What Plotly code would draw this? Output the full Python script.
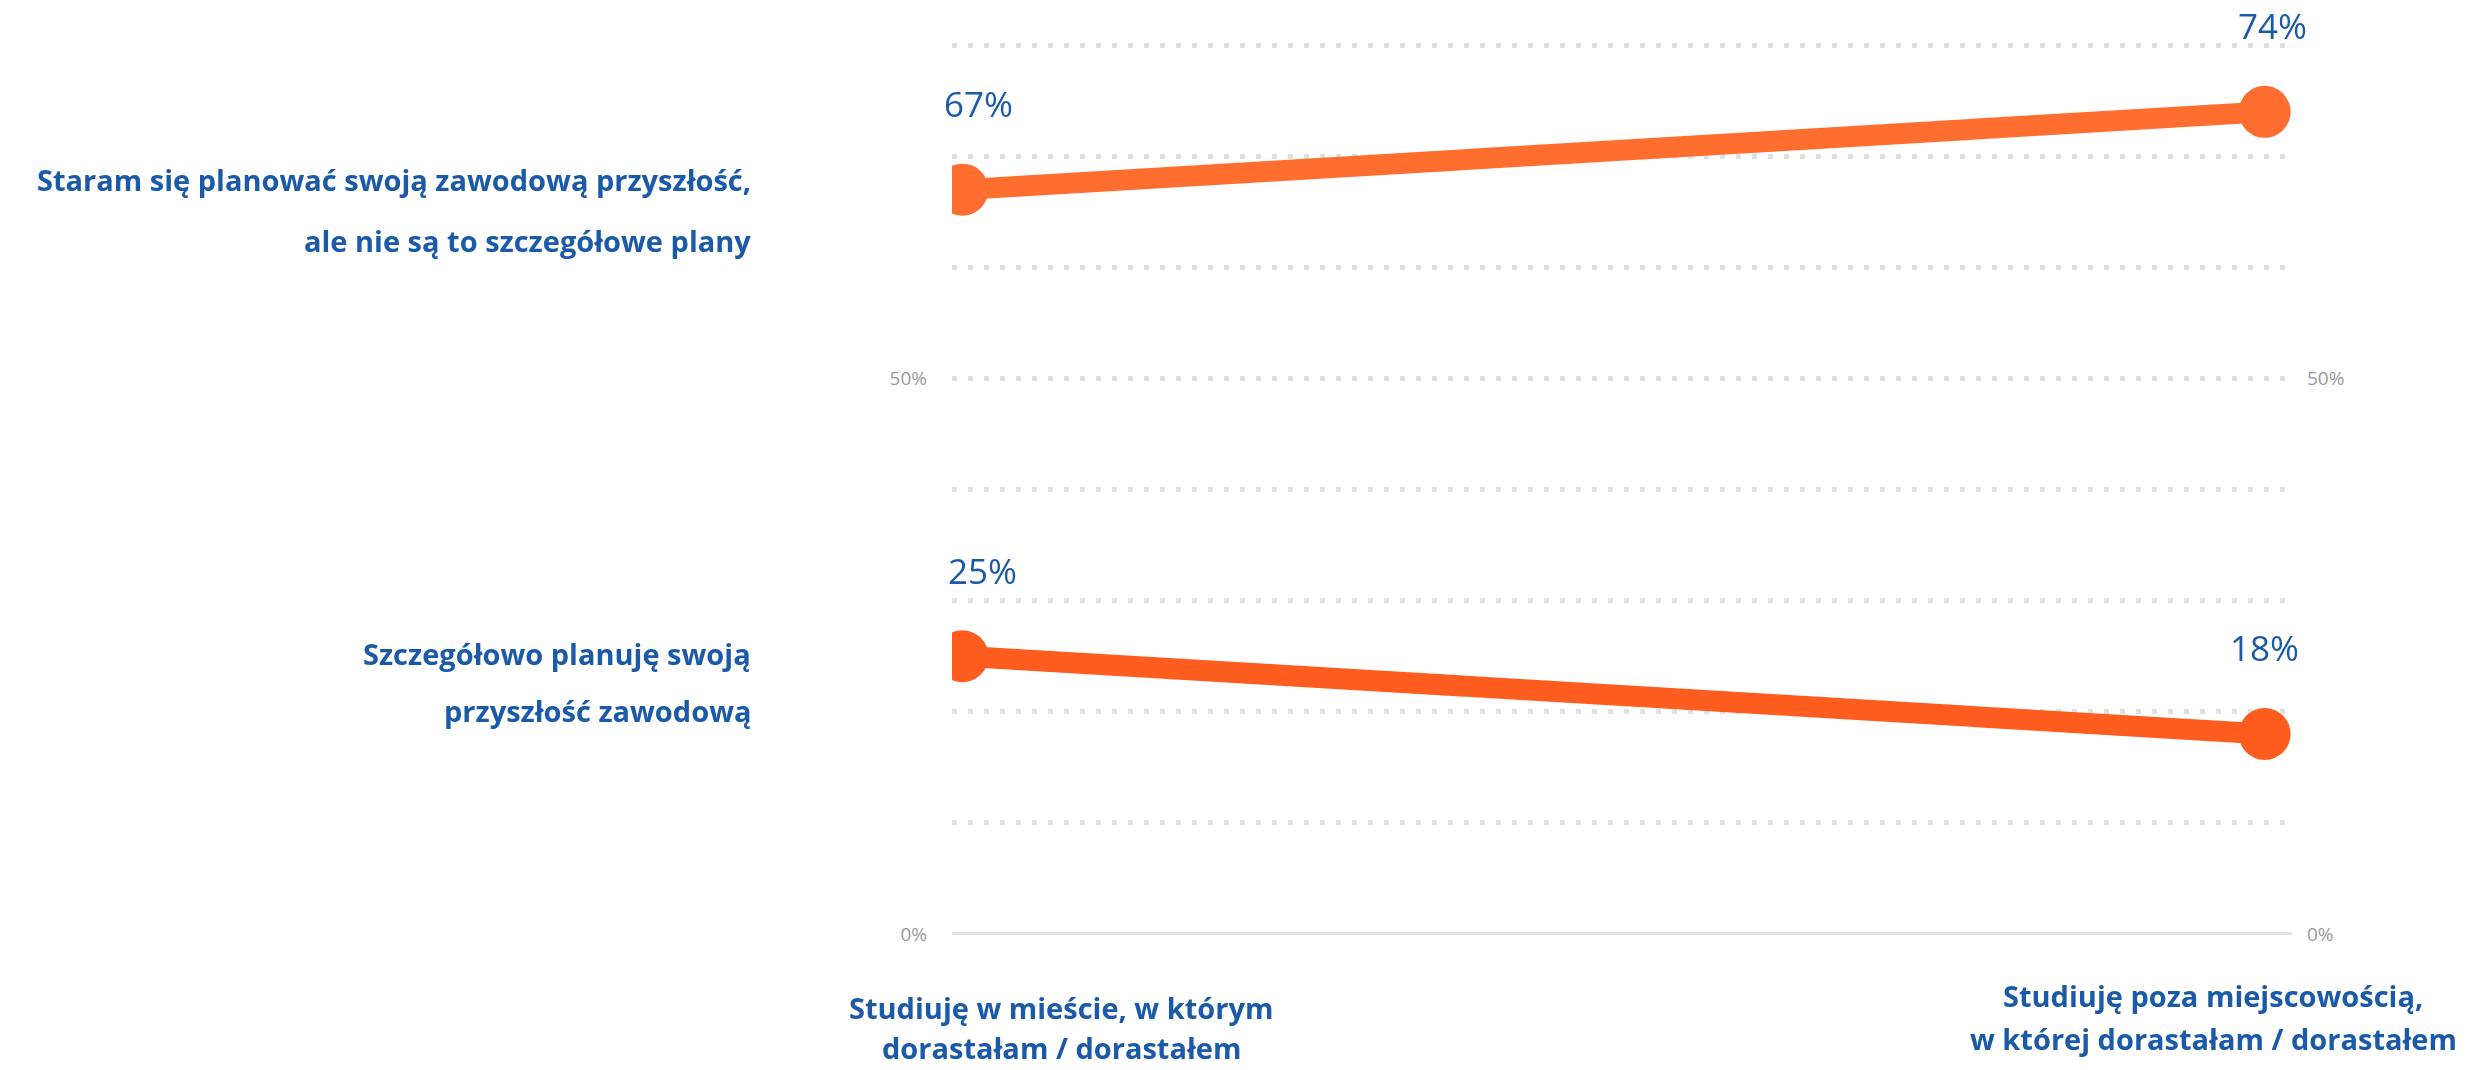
import plotly.graph_objects as go

# --- data -------------------------------------------------------------------
categories = [
    ["Studiuję w mieście, w którym", "dorastałam / dorastałem"],
    ["Studiuję poza miejscowością,", "w której dorastałam / dorastałem"],
]
series_names = [
    ["Staram się planować swoją zawodową przyszłość,", "ale nie są to szczegółowe plany"],
    ["Szczegółowo planuję swoją", "przyszłość zawodową"],
]
values_general = [67, 74]
values_detailed = [25, 18]
y_ticks = [0, 10, 20, 30, 40, 50, 60, 70, 80]
y_ticktext = ["0%", "", "", "", "", "50%", "", "", ""]

# --- styling ----------------------------------------------------------------
W, H = 2490, 1070
PLOT_L, PLOT_R = 952, 2292
PLOT_T, PLOT_B = 22.8, 944.9
BLUE = "#1b5aa8"
GREY = "#9a9a9a"
line_colors = ["#ff6624", "#ff5414"]
label_dx = [[16, 8], [20, 0]]

x_pos = [0, 1]
series_values = [values_general, values_detailed]


def px_x(px):
    return (px - PLOT_L) / (PLOT_R - PLOT_L)


def px_y(py):
    return (PLOT_B - py) / (PLOT_B - PLOT_T)


fig = go.Figure()

for vals, color, name in zip(series_values, line_colors, series_names):
    fig.add_trace(go.Scatter(
        x=x_pos, y=vals, mode="lines+markers",
        name=" ".join(name),
        line=dict(color=color, width=21),
        marker=dict(color=color, size=52, line=dict(width=0)),
        opacity=0.95,
        hoverinfo="skip",
        showlegend=False,
    ))

# invisible trace that carries the right-hand axis
fig.add_trace(go.Scatter(x=x_pos, y=[None, None], yaxis="y2",
                         showlegend=False, hoverinfo="skip"))

annotations = []

# value labels above each point
for vals, dxs in zip(series_values, label_dx):
    for xi, v, dx in zip(x_pos, vals, dxs):
        annotations.append(dict(
            x=xi, y=v, xref="x", yref="y", text=f"{v}%",
            showarrow=False, xanchor="center", yanchor="middle",
            xshift=dx, yshift=86,
            font=dict(family="Open Sans", size=35, color=BLUE),
        ))

# series labels on the left
series_line_y = [[179, 240], [653, 710]]
for lines, ys in zip(series_names, series_line_y):
    for txt, yy in zip(lines, ys):
        annotations.append(dict(
            x=px_x(753), y=px_y(yy), xref="paper", yref="paper", text=txt,
            showarrow=False, xanchor="right", yanchor="middle",
            font=dict(family="Open Sans", size=29, color=BLUE, weight="bold"),
        ))

# category labels under the axis
cat_x = [1061, 2213]
cat_line_y = [[1007, 1047], [995, 1038]]
for lines, cx, ys in zip(categories, cat_x, cat_line_y):
    for txt, yy in zip(lines, ys):
        annotations.append(dict(
            x=px_x(cx), y=px_y(yy), xref="paper", yref="paper", text=txt,
            showarrow=False, xanchor="center", yanchor="middle",
            font=dict(family="Open Sans", size=29, color=BLUE, weight="bold"),
        ))

yaxis_common = dict(
    range=[-1, 82],
    tickmode="array", tickvals=y_ticks, ticktext=y_ticktext,
    tickfont=dict(family="Open Sans", size=19, color=GREY),
    showline=False, ticks="",
    zeroline=True, zerolinecolor="#e2e2e2", zerolinewidth=3,
    fixedrange=True,
)

fig.update_layout(
    width=W, height=H,
    margin=dict(l=PLOT_L, r=W - PLOT_R, t=PLOT_T, b=H - PLOT_B),
    paper_bgcolor="white", plot_bgcolor="white",
    xaxis=dict(range=[-0.008, 1.021], showgrid=False, zeroline=False,
               showticklabels=False, showline=False, fixedrange=True),
    yaxis=dict(**yaxis_common, showgrid=True, gridcolor="#e0e0e0",
               gridwidth=5, griddash="5px,11px", ticklabelstandoff=24),
    yaxis2=dict(**yaxis_common, overlaying="y", side="right",
                showgrid=False, ticklabelstandoff=14),
    annotations=annotations,
    showlegend=False,
)

fig.write_html("out.html")
